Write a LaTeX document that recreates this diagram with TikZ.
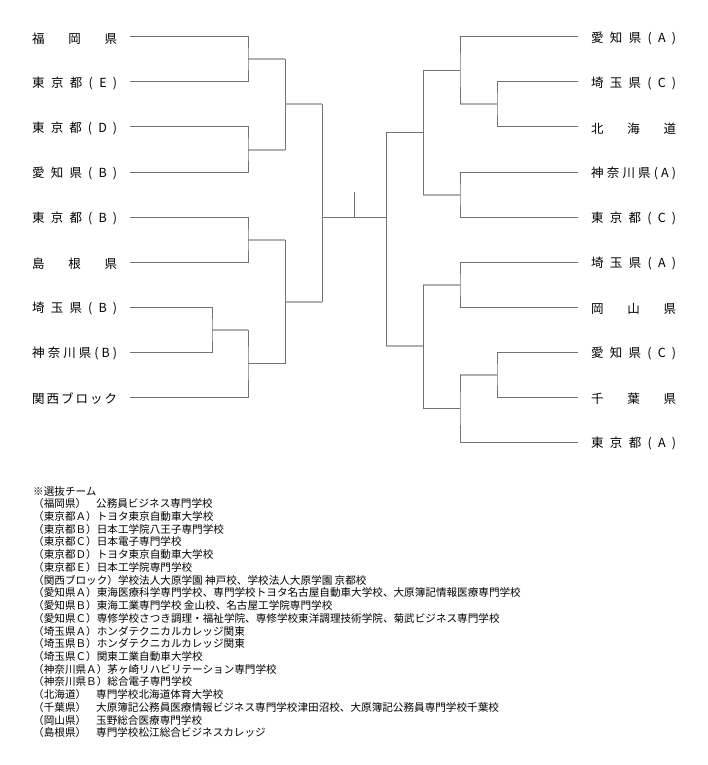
\documentclass[tikz,border=0pt]{standalone}
\usepackage{fontspec}
\setmainfont{Noto Sans CJK JP}
\newcommand\spr[1]{\makebox[85pt][s]{#1}}
\newcommand\tb[1]{\makebox[63pt][l]{#1}}
\begin{document}
\begin{tikzpicture}[x=1pt,y=-1pt,
  dk/.style={draw={rgb,255:red,115;green,115;blue,115},line width=1pt},
  lt/.style={draw={rgb,255:red,176;green,176;blue,176},line width=2pt},
  lbl/.style={anchor=west,inner sep=0pt,font=\fontsize{12.5}{13}\selectfont},
  lst/.style={anchor=west,inner sep=0pt,font=\fontsize{10.6}{11}\selectfont}]
\useasboundingbox[fill=white] (0,0) rectangle (708,765);
% left labels
\node[lbl] (nL1) at (32,38.5) {\spr{福\hfill 岡\hfill 県}};
\node[lbl] (nL2) at (32,83.5) {\spr{東\hfill 京\hfill 都\hfill (\hfill E\hfill )}};
\node[lbl] (nL3) at (32,128.5) {\spr{東\hfill 京\hfill 都\hfill (\hfill D\hfill )}};
\node[lbl] (nL4) at (32,173.5) {\spr{愛\hfill 知\hfill 県\hfill (\hfill B\hfill )}};
\node[lbl] (nL5) at (32,218.5) {\spr{東\hfill 京\hfill 都\hfill (\hfill B\hfill )}};
\node[lbl] (nL6) at (32,263.5) {\spr{島\hfill 根\hfill 県}};
\node[lbl] (nL7) at (32,308.5) {\spr{埼\hfill 玉\hfill 県\hfill (\hfill B\hfill )}};
\node[lbl] (nL8) at (32,353.5) {\spr{神\hfill 奈\hfill 川\hfill 県\hfill (\hfill B\hfill )}};
\node[lbl] (nL9) at (32,398.5) {\spr{関\hfill 西\hfill ブ\hfill ロ\hfill ッ\hfill ク}};
% right labels
\node[lbl] (nR1) at (591,38.5) {\spr{愛\hfill 知\hfill 県\hfill (\hfill A\hfill )}};
\node[lbl] (nR2) at (591,83.5) {\spr{埼\hfill 玉\hfill 県\hfill (\hfill C\hfill )}};
\node[lbl] (nR3) at (591,128.5) {\spr{北\hfill 海\hfill 道}};
\node[lbl] (nR4) at (591,173.5) {\spr{神\hfill 奈\hfill 川\hfill 県\hfill (\hfill A\hfill )}};
\node[lbl] (nR5) at (591,218.5) {\spr{東\hfill 京\hfill 都\hfill (\hfill C\hfill )}};
\node[lbl] (nR6) at (591,263.5) {\spr{埼\hfill 玉\hfill 県\hfill (\hfill A\hfill )}};
\node[lbl] (nR7) at (591,308.5) {\spr{岡\hfill 山\hfill 県}};
\node[lbl] (nR8) at (591,353.5) {\spr{愛\hfill 知\hfill 県\hfill (\hfill C\hfill )}};
\node[lbl] (nR9) at (591,398.5) {\spr{千\hfill 葉\hfill 県}};
\node[lbl] (nR10) at (591,443.5) {\spr{東\hfill 京\hfill 都\hfill (\hfill A\hfill )}};
% line ends
\coordinate (pL1) at (130,37);  \coordinate (pL2) at (130,82);
\coordinate (pL3) at (130,127); \coordinate (pL4) at (130,172);
\coordinate (pL5) at (130,217); \coordinate (pL6) at (130,262);
\coordinate (pL7) at (130,307); \coordinate (pL8) at (130,352);
\coordinate (pL9) at (130,397);
\coordinate (pR1) at (578,37);  \coordinate (pR2) at (578,82);
\coordinate (pR3) at (578,127); \coordinate (pR4) at (578,172);
\coordinate (pR5) at (578,217); \coordinate (pR6) at (578,262);
\coordinate (pR7) at (578,307); \coordinate (pR8) at (578,352);
\coordinate (pR9) at (578,397); \coordinate (pR10) at (578,442);
% junctions left
\coordinate (jA) at (248,59.5);  \coordinate (jB) at (248,149.5);
\coordinate (jC) at (248,239.5); \coordinate (jD) at (212,329.5);
\coordinate (jE) at (248,363.5); \coordinate (jF) at (285,104.5);
\coordinate (jG) at (285,301.5); \coordinate (jH) at (322,217);
\coordinate (top) at (354,191.5);
% junctions right
\coordinate (kA) at (497,104.5); \coordinate (kB) at (460,70.75);
\coordinate (kC) at (460,194.5); \coordinate (kD) at (423,132.6);
\coordinate (kE) at (460,284.5); \coordinate (kF) at (497,374.5);
\coordinate (kG) at (460,408.25); \coordinate (kH) at (423,346.4);
\coordinate (jR) at (386,217);
% left bracket
\draw[lt] (jA) -- (jA -| jF);
\draw[lt] (jB) -- (jB -| jF);
\draw[lt] (jD) -- (jD -| jE);
\draw[lt] (jC) -- (jC -| jG);
\draw[lt] (jF) -- (jF -| jH);
\draw[lt] (jG) -- (jG -| jH);
\draw[dk] (pL1) -| (jA) |- (pL2);
\draw[dk] (pL3) -| (jB) |- (pL4);
\draw[dk] (pL5) -| (jC) |- (pL6);
\draw[dk] (pL7) -| (jD) |- (pL8);
\draw[dk] (jA -| jF) -- (jB -| jF);
\draw[dk] (jD -| jE) -- (jE) |- (pL9);
\draw[dk] (jE) -- (jE -| jG);
\draw[dk] (jC -| jG) -- (jE -| jG);
\draw[dk] (jF -| jH) -- (jG -| jH);
\draw[dk] (jH) -- (jR);
\draw[dk] (top) -- (top |- jH);
% right bracket
\draw[lt] (kA) -- (kA -| kB);
\draw[lt] (kC) -- (kC -| kD);
\draw[lt] (kE) -- (kE -| kH);
\draw[lt] (kF) -- (kF -| kG);
\draw[lt] (kH) -- (kH -| jR);
\draw[dk] (pR2) -| (kA) |- (pR3);
\draw[dk] (pR1) -| (kB) -- (kA -| kB);
\draw[dk] (kB) -- (kB -| kD);
\draw[dk] (pR4) -| (kC) |- (pR5);
\draw[dk] (kB -| kD) -- (kC -| kD);
\draw[dk] (kD) -- (kD -| jR);
\draw[dk] (pR6) -| (kE) |- (pR7);
\draw[dk] (pR8) -| (kF) |- (pR9);
\draw[dk] (kF -| kG) -- (kG) |- (pR10);
\draw[dk] (kG) -- (kG -| kH);
\draw[dk] (kE -| kH) -- (kG -| kH);
\draw[dk] (kD -| jR) -- (kH -| jR);
% list
\node[lst] (t0) at (33,491) {※選抜チーム};
\node[lst] (t1) at (33,503.7) {\tb{（福岡県）}公務員ビジネス専門学校};
\node[lst] (t2) at (33,516.5) {（東京都Ａ）トヨタ東京自動車大学校};
\node[lst] (t3) at (33,529.2) {（東京都Ｂ）日本工学院八王子専門学校};
\node[lst] (t4) at (33,541.9) {（東京都Ｃ）日本電子専門学校};
\node[lst] (t5) at (33,554.7) {（東京都Ｄ）トヨタ東京自動車大学校};
\node[lst] (t6) at (33,567.4) {（東京都Ｅ）日本工学院専門学校};
\node[lst] (t7) at (33,580.1) {（関西ブロック）学校法人大原学園 神戸校、学校法人大原学園 京都校};
\node[lst] (t8) at (33,592.8) {（愛知県Ａ）東海医療科学専門学校、専門学校トヨタ名古屋自動車大学校、大原簿記情報医療専門学校};
\node[lst] (t9) at (33,605.6) {（愛知県Ｂ）東海工業専門学校 金山校、名古屋工学院専門学校};
\node[lst] (t10) at (33,618.3) {（愛知県Ｃ）専修学校さつき調理・福祉学院、専修学校東洋調理技術学院、菊武ビジネス専門学校};
\node[lst] (t11) at (33,631) {（埼玉県Ａ）ホンダテクニカルカレッジ関東};
\node[lst] (t12) at (33,643.8) {（埼玉県Ｂ）ホンダテクニカルカレッジ関東};
\node[lst] (t13) at (33,656.5) {（埼玉県Ｃ）関東工業自動車大学校};
\node[lst] (t14) at (33,669.2) {（神奈川県Ａ）茅ヶ崎リハビリテーション専門学校};
\node[lst] (t15) at (33,681.9) {（神奈川県Ｂ）総合電子専門学校};
\node[lst] (t16) at (33,694.7) {\tb{（北海道）}専門学校北海道体育大学校};
\node[lst] (t17) at (33,707.4) {\tb{（千葉県）}大原簿記公務員医療情報ビジネス専門学校津田沼校、大原簿記公務員専門学校千葉校};
\node[lst] (t18) at (33,720.1) {\tb{（岡山県）}玉野総合医療専門学校};
\node[lst] (t19) at (33,732.9) {\tb{（島根県）}専門学校松江総合ビジネスカレッジ};
\end{tikzpicture}
\end{document}
